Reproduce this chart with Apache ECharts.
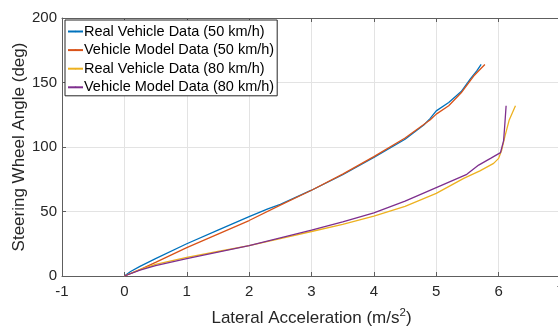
<!DOCTYPE html>
<html>
<head>
<meta charset="utf-8">
<script src="https://cdn.jsdelivr.net/npm/echarts@6/dist/echarts.min.js"></script>
<style>
  html, body { margin: 0; padding: 0; background: #fff; }
  #chart { width: 558px; height: 326px; }
</style>
</head>
<body>
<div id="chart"></div>
<script>
// series names
const seriesNames = ['Real Vehicle Data (50 km/h)', 'Vehicle Model Data (50 km/h)',
  'Real Vehicle Data (80 km/h)', 'Vehicle Model Data (80 km/h)'];

// [lateral acceleration, steering wheel angle]
const real50 = [[0, 0], [0.1, 3.5], [0.25, 7.5], [0.5, 13.5], [1, 25], [1.5, 35.5], [2, 46], [2.3, 52], [2.5, 55.5],
  [3, 66.5], [3.5, 78.5], [4, 92], [4.5, 106], [4.8, 117], [4.9, 122], [5.0, 128], [5.2, 134.5],
  [5.4, 143], [5.55, 153], [5.65, 159], [5.72, 164]];
const model50 = [[0, 0], [0.25, 5], [0.5, 10.5], [1, 22], [1.5, 32.5], [2, 43], [2.5, 55],
  [3, 66.5], [3.5, 79], [4, 92.5], [4.5, 107], [4.9, 121], [5.0, 125.5], [5.2, 132], [5.4, 142],
  [5.6, 155], [5.72, 161], [5.78, 164]];
const real80 = [[0, 0], [0.25, 5], [0.5, 9], [1, 14.5], [1.5, 19], [2, 23.5], [2.5, 29],
  [3, 34.5], [3.5, 40], [4, 46.5], [4.5, 54], [5, 64], [5.44, 75.7], [5.7, 81.5], [5.92, 87.3],
  [6.0, 91.2], [6.05, 97.7], [6.1, 108], [6.17, 121], [6.27, 132]];
const model80 = [[0, 0], [0.25, 4.5], [0.5, 8], [1, 13.5], [1.5, 18.5], [2, 23.5], [2.5, 29.5],
  [3, 35.5], [3.5, 42], [4, 49], [4.5, 58], [5, 68.5], [5.49, 78.8], [5.68, 86], [5.87, 91.2],
  [6.03, 95.6], [6.08, 105], [6.1, 118], [6.12, 132]];

const xTicks = { min: -1, max: 7, step: 1 };
const yTicks = { min: 0, max: 200, step: 50 };

const colors = ['#0072BD', '#D95319', '#EDB120', '#7E2F8E'];
const fontFamily = 'Liberation Sans, Arial, sans-serif';
const textColor = '#262626';
const axisColor = '#5e5e5e';

let chart = echarts.init(document.getElementById('chart'));

const mkLine = (name, data) => ({
  name: name,
  type: 'line',
  data: data,
  symbol: 'none',
  smooth: false,
  lineStyle: { width: 1.3 }
});

chart.setOption({
  animation: false,
  color: colors,
  textStyle: { fontFamily: fontFamily },
  grid: {
    left: 62,
    top: 18,
    width: 499,
    height: 258,
    outerBoundsMode: 'none'
  },
  legend: {
    orient: 'vertical',
    left: 65,
    top: 20,
    padding: [4, 3, 1, 2],
    itemGap: 3.6,
    itemWidth: 15,
    itemHeight: 2,
    backgroundColor: '#fff',
    borderColor: '#262626',
    borderWidth: 1,
    textStyle: { fontSize: 14.5, lineHeight: 15, color: '#000', fontFamily: fontFamily, padding: [0, 0, 0, -4] },
    data: seriesNames
  },
  xAxis: [{
    type: 'value',
    min: xTicks.min,
    max: xTicks.max,
    interval: xTicks.step,
    name: '{a|Lateral Acceleration (m/s}{s|2}{a|)}',
    nameLocation: 'middle',
    nameMoveOverlap: false,
    nameGap: 31,
    nameTextStyle: {
      color: textColor,
      rich: {
        a: { fontSize: 17, color: textColor, fontFamily: fontFamily },
        s: { fontSize: 11.5, color: textColor, fontFamily: fontFamily, padding: [0, 0, 10, 0] }
      }
    },
    axisLine: { onZero: false, lineStyle: { color: axisColor, width: 1 } },
    axisTick: { inside: true, length: 4, lineStyle: { color: axisColor } },
    axisLabel: { fontSize: 15, color: textColor, margin: 8 },
    splitLine: { show: true, lineStyle: { color: '#e3e3e3', width: 1 } }
  }, {
    type: 'value',
    position: 'top',
    min: xTicks.min,
    max: xTicks.max,
    interval: xTicks.step,
    axisLine: { onZero: false, lineStyle: { color: axisColor, width: 1 } },
    axisTick: { inside: true, length: 4, lineStyle: { color: axisColor } },
    axisLabel: { show: false },
    splitLine: { show: false }
  }],
  yAxis: {
    type: 'value',
    min: yTicks.min,
    max: yTicks.max,
    interval: yTicks.step,
    name: 'Steering Wheel Angle (deg)',
    nameLocation: 'middle',
    nameMoveOverlap: false,
    nameGap: 34,
    nameTextStyle: { fontSize: 17, color: textColor, fontFamily: fontFamily },
    axisLine: { show: true, onZero: false, lineStyle: { color: axisColor, width: 1 } },
    axisTick: { show: true, inside: true, length: 4, lineStyle: { color: axisColor } },
    axisLabel: { fontSize: 15, color: textColor, margin: 5 },
    splitLine: { show: true, lineStyle: { color: '#e3e3e3', width: 1 } }
  },
  series: [
    mkLine(seriesNames[0], real50),
    mkLine(seriesNames[1], model50),
    mkLine(seriesNames[2], real80),
    mkLine(seriesNames[3], model80)
  ]
});
</script>
</body>
</html>
